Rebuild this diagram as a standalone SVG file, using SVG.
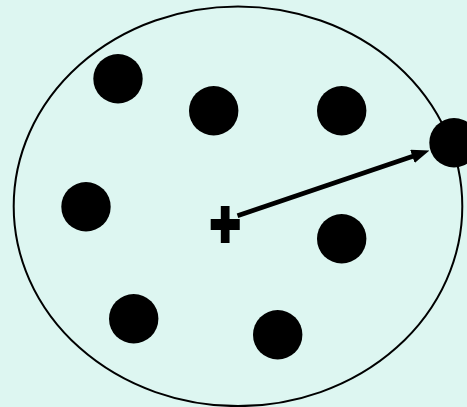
<svg xmlns="http://www.w3.org/2000/svg" width="467" height="407" viewBox="0 0 467 407">
<style>
.dot{fill:#000}
.conn{stroke:#000;stroke-width:4.8;fill:none}
.lbl{font-family:"Liberation Sans",Arial,sans-serif;font-weight:bold;fill:#000}
</style>
<defs>
<marker id="ah" viewBox="0 0 18 14" markerWidth="18" markerHeight="14" refX="6" refY="7" orient="auto" markerUnits="userSpaceOnUse">
<path d="M0,0 L18,7 L0,14 z" fill="#000"/>
</marker>
</defs>
<rect width="467" height="407" fill="#ddf6f1"/>
<g id="cluster">
<ellipse cx="238" cy="206.3" rx="224.3" ry="199.8" fill="#ddf6f1" stroke="#000" stroke-width="2"/>
</g>
<g id="centroid">
<text class="lbl" x="225.3" y="0" font-size="52" text-anchor="middle" stroke="#000" stroke-width="3" transform="translate(0,246) scale(1,1.25)">+</text>
</g>
<g id="p1"><circle class="dot" cx="118" cy="78.7" r="24.7"/></g>
<g id="p2"><circle class="dot" cx="213.7" cy="110.7" r="24.7"/></g>
<g id="p3"><circle class="dot" cx="341.7" cy="110.7" r="24.7"/></g>
<g id="p4"><circle class="dot" cx="86" cy="206.7" r="24.7"/></g>
<g id="p5"><circle class="dot" cx="341.7" cy="238.7" r="24.7"/></g>
<g id="p6"><circle class="dot" cx="133.7" cy="318.7" r="24.7"/></g>
<g id="p7"><circle class="dot" cx="277.7" cy="334.7" r="24.7"/></g>
<g id="p8"><circle class="dot" cx="454" cy="142.7" r="24.7"/></g>
<g id="connectors">
<line class="conn" x1="237.5" y1="215.8" x2="418.1" y2="154.4" marker-end="url(#ah)"/>
</g>
</svg>
